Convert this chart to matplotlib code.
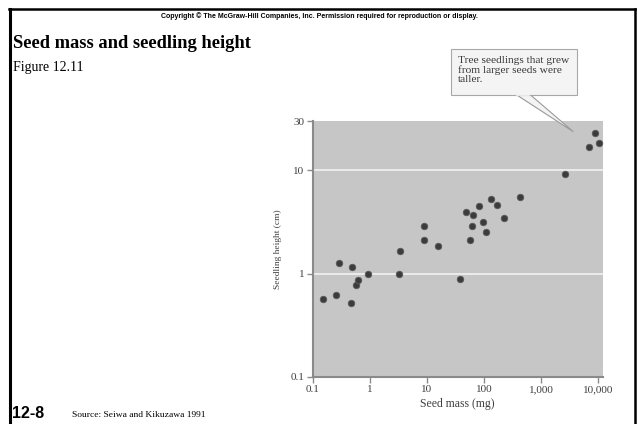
import matplotlib
matplotlib.use("Agg")
import matplotlib.pyplot as plt
from matplotlib.patches import Rectangle, Polygon
from matplotlib.lines import Line2D

# Seed mass (mg) vs seedling height (cm)
seed_mass = [0.152, 0.254, 0.294, 0.465, 0.50, 0.583, 0.615, 0.935, 3.23, 3.36,
             8.98, 8.98, 15.8, 37.9, 49, 56.8, 60.8, 63.2, 81.6, 96,
             110, 131, 167, 227, 429, 2600, 6850, 8750, 10400]
seedling_height = [0.570, 0.627, 1.27, 0.525, 1.15, 0.772, 0.862, 1.0, 1.0, 1.67,
                   2.10, 2.88, 1.86, 0.882, 3.99, 2.10, 2.92, 3.71, 4.50, 3.18,
                   2.52, 5.28, 4.64, 3.49, 5.53, 9.15, 16.9, 22.9, 18.2]

x_ticks = [0.1, 1, 10, 100, 1000, 10000]
x_ticklabels = ["0.1", "1", "10", "100", "1,000", "10,000"]
y_ticks = [0.1, 1, 10, 30]
y_ticklabels = ["0.1", "1", "10", "30"]

W, H = 638, 424
fig = plt.figure(figsize=(W / 100, H / 100), dpi=100)
fig.patch.set_facecolor("white")

serif = ["Liberation Serif", "DejaVu Serif"]
sans = ["Liberation Sans", "DejaVu Sans"]

def fx(px):
    return px / W

def fy(py):
    return 1 - py / H

# frame lines around the slide
fig.add_artist(Line2D([fx(10), fx(10)], [fy(9), 0], color="black", lw=2.2, transform=fig.transFigure))
fig.add_artist(Line2D([fx(9), fx(635)], [fy(9), fy(9)], color="black", lw=1.8, transform=fig.transFigure))
fig.add_artist(Line2D([fx(634.5), fx(634.5)], [fy(9), 0], color="black", lw=1.8, transform=fig.transFigure))

fig.text(0.5, fy(16), "Copyright \u00a9 The McGraw-Hill Companies, Inc. Permission required for reproduction or display.",
         ha="center", va="center", fontsize=5, fontweight="bold", family=sans)
fig.text(fx(13), fy(43), "Seed mass and seedling height", ha="left", va="center",
         fontsize=13.3, fontweight="bold", family=serif)
fig.text(fx(13), fy(67), "Figure 12.11", ha="left", va="center", fontsize=10, family=serif)
fig.text(fx(12), fy(413), "12-8", ha="left", va="center", fontsize=11.5, fontweight="bold", family=sans)
fig.text(fx(72), fy(415), "Source: Seiwa and Kikuzawa 1991", ha="left", va="center", fontsize=6.8, family=serif)

ax = fig.add_axes([fx(312.5), fy(377), fx(602.7) - fx(312.5), fy(121) - fy(377)])
ax.set_facecolor("#c6c6c6")
ax.set_xscale("log")
ax.set_yscale("log")
ax.set_xlim(0.1, 11900)
ax.set_ylim(0.1, 30)

for gy in [1, 10]:
    ax.axhline(gy, color="#f2f2f2", lw=1.2, zorder=1)

ax.scatter(seed_mass, seedling_height, s=22, color="#3c3c3c", edgecolors="#5a5a5a",
           linewidths=0.6, zorder=3)

ax.set_xticks(x_ticks)
ax.set_xticklabels(x_ticklabels)
ax.set_yticks(y_ticks)
ax.set_yticklabels(y_ticklabels)
ax.minorticks_off()
ax.tick_params(direction="out", length=4, width=1, color="#8a8a8a", labelcolor="#3f3f3f",
               labelsize=8, pad=2)
for lab in ax.get_xticklabels() + ax.get_yticklabels():
    lab.set_family(serif)

for side in ["top", "right"]:
    ax.spines[side].set_visible(False)
for side in ["left", "bottom"]:
    ax.spines[side].set_color("#8a8a8a")
    ax.spines[side].set_linewidth(1.5)

ax.set_xlabel("Seed mass (mg)", fontsize=8.5, color="#3f3f3f", family=serif, labelpad=3)
ax.set_ylabel("Seedling height (cm)", fontsize=6.8, color="#3f3f3f", family=serif, labelpad=6)

# callout box with pointer
fig.add_artist(Polygon([(fx(516), fy(94.5)), (fx(573.3), fy(131.7)), (fx(530), fy(94.5))],
                       closed=True, facecolor="#f4f4f4", edgecolor="#9a9a9a", lw=0.8,
                       transform=fig.transFigure))
fig.add_artist(Rectangle((fx(450.7), fy(95)), fx(576.7) - fx(450.7), fy(49.3) - fy(95),
                         facecolor="#f4f4f4", edgecolor="#a8a8a8", lw=0.8, transform=fig.transFigure))
fig.add_artist(Line2D([fx(517), fx(529)], [fy(95), fy(95)], color="#f4f4f4", lw=1.2,
                      transform=fig.transFigure))
fig.text(fx(458), fy(56), "Tree seedlings that grew\nfrom larger seeds were\ntaller.",
         ha="left", va="top", fontsize=8.2, color="#3a3a3a", family=serif, linespacing=1.05)

fig.savefig("out.png", dpi=100)
